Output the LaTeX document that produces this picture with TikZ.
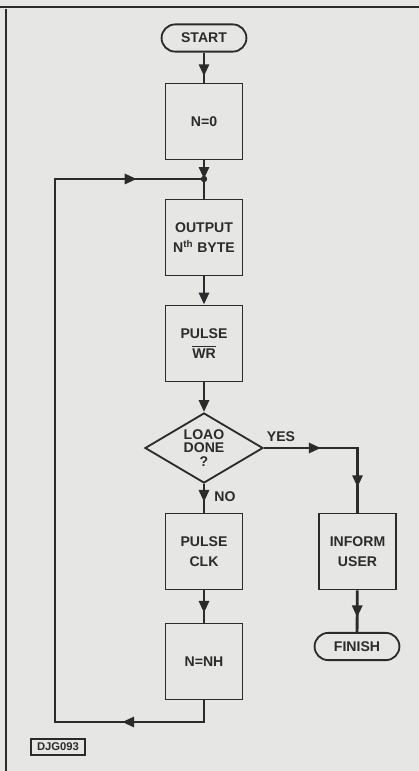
\documentclass[tikz,border=0pt]{standalone}
\usepackage{fontspec}
\setmainfont{Liberation Sans}
\usetikzlibrary{shapes.geometric,arrows.meta,decorations.markings}

\definecolor{paper}{HTML}{E6E6E4}
\definecolor{ink}{HTML}{2B2B2B}

\tikzset{
  box/.style={draw=ink, line width=1.3pt, minimum width=1.925cm, minimum height=1.9cm,
    align=center, text=ink, font=\fontsize{10}{14}\selectfont\bfseries},
  term/.style={draw=ink, line width=1.3pt, rounded corners=0.34cm, minimum width=2.12cm,
    minimum height=0.68cm, text=ink, font=\fontsize{10}{12}\selectfont\bfseries},
  decide/.style={diamond, draw=ink, line width=1.3pt, aspect=1.7, inner sep=0pt,
    minimum width=2.95cm, minimum height=1.75cm, align=center, text=ink,
    font=\fontsize{10}{9.4}\selectfont\bfseries},
  flow/.style={draw=ink, line width=2pt},
  tip/.style={-{Triangle[length=0.3cm,width=0.25cm]}},
  arrowat/.style={postaction={decorate, decoration={markings,
    mark=at position #1 with {\arrow{Triangle[length=0.3cm,width=0.25cm]}}}}},
  lbl/.style={text=ink, font=\fontsize{10}{12}\selectfont\bfseries},
}

\begin{document}
\begin{tikzpicture}[x=0.025cm, y=-0.025cm]
  % paper and frame
  \fill[paper] (0,0) rectangle (419,771);
  \useasboundingbox (0,0) rectangle (419,771);
  \draw[ink, line width=0.065cm] (0,7) -- (419,7);
  \draw[ink, line width=0.065cm] (6,9) -- (6,771);

  % main column
  \node[term] (start) at (204,38) {START};
  \node[box] (n0) at (204,121.5) {N=0};
  \coordinate (jn) at (204,179);
  \node[box] (out) at (204,237.5) {OUTPUT\\N\textsuperscript{th} BYTE};
  \node[box] (wr) at (204,343.5) {PULSE\\$\overline{\mbox{WR}}$};
  \node[decide] (done) at (204,448) {LOAO\\DONE\\?};
  \node[box] (clk) at (204,551.5) {PULSE\\CLK};
  \node[box] (nh) at (204,661.5) {N=NH};

  % right branch
  \node[box] (inform) at (357.5,551.5) {INFORM\\USER};
  \node[term] (finish) at (357,646.5) {FINISH};

  % connectors
  \draw[flow, arrowat=0.79] (start) -- (n0);
  \draw[flow, tip] (n0) -- (jn);
  \fill[ink] (jn) circle (0.08cm);
  \draw[flow] (jn) -- (out);
  \draw[flow, tip] (out) -- (wr);
  \draw[flow, tip] (wr) -- (done);
  \draw[flow, arrowat=0.63] (done) -- (clk);
  \draw[flow, arrowat=0.7] (clk) -- (nh);
  \draw[flow, arrowat=0.36, arrowat=0.84] (done.east) -| (inform.north);
  \draw[flow, arrowat=0.65] (inform) -- (finish);

  % loop back
  \coordinate (lpbot) at (55,722);
  \coordinate (lptop) at (55,179);
  \draw[flow, arrowat=0.12, arrowat=0.922] (nh.south) |- (lpbot) -- (lptop) -- (jn);

  % labels
  \node[lbl] (yes) at (281,437) {YES};
  \node[lbl] (no) at (225,497) {NO};
  \node[draw=ink, line width=1.2pt, text=ink, minimum width=1.35cm, minimum height=0.4cm,
    inner sep=1pt, font=\fontsize{8}{9}\selectfont\bfseries] (ref) at (58,747) {DJG093};
\end{tikzpicture}
\end{document}
